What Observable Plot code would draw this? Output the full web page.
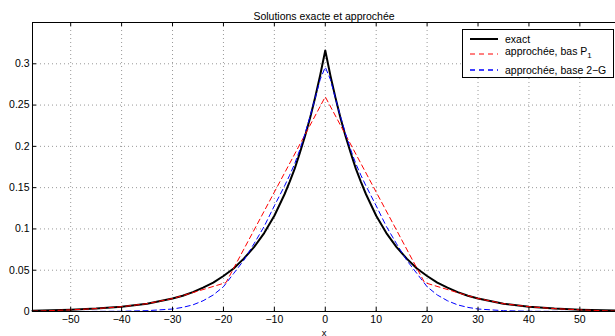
<!DOCTYPE html>
<html><head><meta charset="utf-8">
<script src="https://cdn.jsdelivr.net/npm/d3@7"></script>
<script src="https://cdn.jsdelivr.net/npm/@observablehq/plot@0.6"></script>
<style>
body{margin:0;background:#fff;}
#wrap{position:relative;width:615px;height:336px;overflow:hidden;font-family:"Liberation Sans",Arial,sans-serif;}
#legend{position:absolute;left:462px;top:29px;width:150px;height:47px;border:1px solid #000;background:#fff;font-size:10.5px;color:#000;}
#legend svg{position:absolute;left:7px;}
#legend span{position:absolute;left:42px;white-space:nowrap;line-height:10px;}
#legend sub{font-size:8px;vertical-align:-3px;line-height:0;}
</style></head>
<body><div id="wrap"></div>
<script>
const title = "Solutions exacte et approchée";
const xLabel = "x";
const xTicks = [-50, -40, -30, -20, -10, 0, 10, 20, 30, 40, 50];
const yTicks = [0, 0.05, 0.1, 0.15, 0.2, 0.25, 0.3];
const xDomain = [-57.5, 57];
const yDomain = [0, 0.35];
const seriesNames = ["exact", "approchée, bas P", "approchée, base 2\u2212G"];

// exact solution
const exactX = [-57.5,-50,-45,-40,-35,-30,-28,-26,-24,-22,-20,-18,-16,-14,-12,-10,-9,-8,-7,-6,-5,-4,-3,-2,-1,0,1,2,3,4,5,6,7,8,9,10,12,14,16,18,20,22,24,26,28,30,35,40,45,50,57.5];
const exactY = [0.001,0.0021,0.0035,0.0058,0.0095,0.0157,0.019,0.0235,0.029,0.035,0.043,0.052,0.064,0.078,0.095,0.116,0.129,0.142,0.157,0.173,0.192,0.212,0.234,0.259,0.286,0.316,0.286,0.259,0.234,0.212,0.192,0.173,0.157,0.142,0.129,0.116,0.095,0.078,0.064,0.052,0.043,0.035,0.029,0.0235,0.019,0.0157,0.0095,0.0058,0.0035,0.0021,0.001];

// approximation, P1 basis (red)
const p1X = [-57.5,-50,-45,-40,-35,-30,-27,-19.5,0,19.5,27,30,35,40,45,50,57.5];
const p1Y = [0.0003,0.002,0.0035,0.0058,0.0095,0.0157,0.021,0.035,0.26,0.035,0.021,0.0157,0.0095,0.0058,0.0035,0.002,0.0003];

// approximation, 2-G basis (blue)
const gX = [-57.5,-50,-40,-35,-30,-28,-26,-24,-22,-20,-18,-16,-14,-12,-10,-8,-7,-6,-5,-4,-3,-2,-1,0,1,2,3,4,5,6,7,8,10,12,14,16,18,20,22,24,26,28,30,35,40,50,57.5];
const gY = [0,0,0.0003,0.001,0.003,0.005,0.008,0.013,0.020,0.030,0.046,0.062,0.082,0.103,0.128,0.152,0.165,0.179,0.196,0.215,0.236,0.258,0.281,0.296,0.281,0.258,0.236,0.215,0.196,0.179,0.165,0.152,0.128,0.103,0.082,0.062,0.046,0.030,0.020,0.013,0.008,0.005,0.003,0.001,0.0003,0,0];

const exact = exactX.map((x, i) => ({x, y: exactY[i]}));
const p1 = p1X.map((x, i) => ({x, y: p1Y[i]}));
const g2 = gX.map((x, i) => ({x, y: gY[i]}));

const chart = Plot.plot({
  width: 615, height: 336,
  marginLeft: 32, marginRight: 0, marginTop: 22, marginBottom: 25,
  style: {fontFamily: "'Liberation Sans', Arial, sans-serif", fontSize: "10.5px", background: "white", color: "black", overflow: "hidden"},
  x: {domain: xDomain},
  y: {domain: yDomain},
  marks: [
    Plot.ruleX(xTicks, {stroke: "#999", strokeDasharray: "1,3"}),
    Plot.ruleY(yTicks, {stroke: "#999", strokeDasharray: "1,3"}),
    Plot.line(exact, {x: "x", y: "y", stroke: "black", strokeWidth: 2}),
    Plot.line(p1, {x: "x", y: "y", stroke: "#ff0000", strokeWidth: 1, strokeDasharray: "5,3.5"}),
    Plot.line(g2, {x: "x", y: "y", stroke: "#0000ff", strokeWidth: 1, strokeDasharray: "5,3.5"}),
    Plot.ruleX(xTicks, {insetTop: 285, stroke: "black"}),
    Plot.ruleX(xTicks, {insetBottom: 285, stroke: "black"}),
    Plot.ruleY(yTicks, {insetRight: 579, stroke: "black"}),
    Plot.ruleX([xDomain[0]], {stroke: "black"}),
    Plot.ruleY([yDomain[1]], {stroke: "black"}),
    Plot.ruleY([yDomain[0]], {stroke: "black"}),
    Plot.axisX({ticks: xTicks, tickSize: 0, tickPadding: 4, label: null, fontSize: 10.5}),
    Plot.axisY({ticks: yTicks, tickSize: 0, tickPadding: 3, label: null, tickFormat: d3.format("~g"), fontSize: 10.5}),
    Plot.text([title], {text: d => d, frameAnchor: "top", dy: -10, fontSize: 10.5}),
    Plot.text([xLabel], {text: d => d, frameAnchor: "bottom", dy: 24, lineAnchor: "bottom", fontSize: 9.5})
  ]
});
const wrap = document.getElementById("wrap");
wrap.appendChild(chart);

const legend = document.createElement("div");
legend.id = "legend";
const items = [
  {name: seriesNames[0], color: "black", w: 2, dash: null, lineTop: 9, textTop: 4, sub: null},
  {name: seriesNames[1], color: "#ff0000", w: 1, dash: "5,4", lineTop: 24, textTop: 16, sub: "1"},
  {name: seriesNames[2], color: "#0000ff", w: 1.5, dash: "5,4", lineTop: 40, textTop: 35, sub: null}
];
for (const it of items) {
  const svg = d3.create("svg").attr("width", 28).attr("height", 4)
    .style("top", (it.lineTop - 2) + "px");
  svg.append("line").attr("x1", 0).attr("x2", 28).attr("y1", 2).attr("y2", 2)
    .attr("stroke", it.color).attr("stroke-width", it.w)
    .attr("stroke-dasharray", it.dash);
  legend.appendChild(svg.node());
  const span = document.createElement("span");
  span.style.top = it.textTop + "px";
  span.textContent = it.name;
  if (it.sub) { const s = document.createElement("sub"); s.textContent = it.sub; span.appendChild(s); }
  legend.appendChild(span);
}
wrap.appendChild(legend);
</script>
</body></html>
